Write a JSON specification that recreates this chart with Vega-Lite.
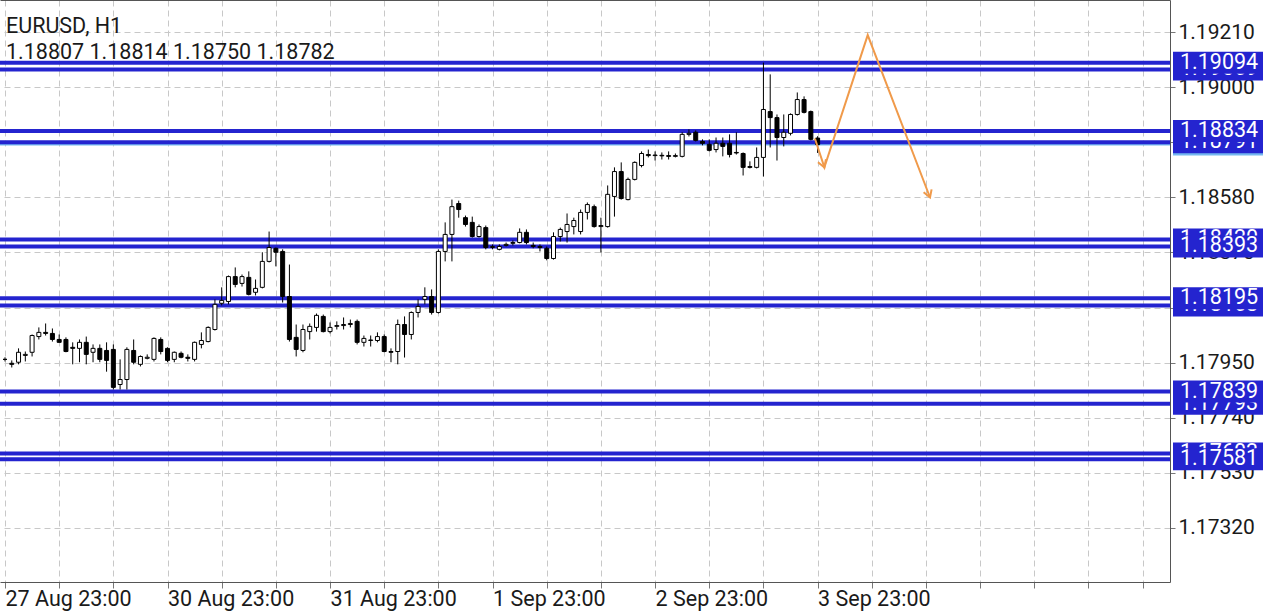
{
  "$schema": "https://vega.github.io/schema/vega-lite/v6.json",
  "width": 1170,
  "height": 582,
  "autosize": {"type": "none"},
  "padding": {"left": 0, "top": 0, "right": 110, "bottom": 32},
  "background": "white",
  "config": {"font": "Roboto", "view": {"stroke": null}},
  "title": {
    "text": "EURUSD, H1",
    "subtitle": "1.18807 1.18814 1.18750 1.18782",
    "anchor": "start",
    "frame": "group",
    "orient": "top",
    "offset": -63,
    "dx": 6,
    "font": "Roboto",
    "fontSize": 21.5,
    "fontWeight": "normal",
    "color": "#1a1a1a",
    "subtitleFont": "Roboto",
    "subtitleFontSize": 21.5,
    "subtitleColor": "#1a1a1a",
    "subtitlePadding": 4
  },
  "datasets": {
    "levels": [
      {"price": 1.19069, "label": "1.19069", "layer": "back"},
      {"price": 1.18791, "label": "1.18791", "layer": "back"},
      {"price": 1.18420, "label": "1.18420", "layer": "back"},
      {"price": 1.18168, "label": "1.18168", "layer": "back"},
      {"price": 1.17793, "label": "1.17793", "layer": "back"},
      {"price": 1.17603, "label": "1.17603", "layer": "back"},
      {"price": 1.19094, "label": "1.19094", "layer": "front"},
      {"price": 1.18834, "label": "1.18834", "layer": "front"},
      {"price": 1.18393, "label": "1.18393", "layer": "front"},
      {"price": 1.18195, "label": "1.18195", "layer": "front"},
      {"price": 1.17839, "label": "1.17839", "layer": "front"},
      {"price": 1.17581, "label": "1.17581", "layer": "front"}
    ],
    "bid": [{"price": 1.18782, "label": "1.18782"}],
    "path": [
      {"k": 0, "i": 119.6, "p": 1.18805},
      {"k": 1, "i": 121.0, "p": 1.18695},
      {"k": 2, "i": 127.4, "p": 1.19200},
      {"k": 3, "i": 136.6, "p": 1.18580}
    ],
    "heads": [
      {"i": 121.0, "p": 1.18695},
      {"i": 136.6, "p": 1.18580}
    ],
    "candles": [
      {"i":0,"o":1.17962,"h":1.17970,"l":1.17954,"c":1.17962},
      {"i":1,"o":1.17947,"h":1.17958,"l":1.17931,"c":1.17943},
      {"i":2,"o":1.17951,"h":1.18004,"l":1.17943,"c":1.17989},
      {"i":3,"o":1.17977,"h":1.17992,"l":1.17954,"c":1.17981},
      {"i":4,"o":1.17989,"h":1.18057,"l":1.17973,"c":1.18053},
      {"i":5,"o":1.18049,"h":1.18084,"l":1.18038,"c":1.18065},
      {"i":6,"o":1.18065,"h":1.18099,"l":1.18053,"c":1.18061},
      {"i":7,"o":1.18061,"h":1.18080,"l":1.18030,"c":1.18038},
      {"i":8,"o":1.18038,"h":1.18057,"l":1.18027,"c":1.18027},
      {"i":9,"o":1.18038,"h":1.18046,"l":1.17989,"c":1.17992},
      {"i":10,"o":1.18008,"h":1.18027,"l":1.17943,"c":1.18004},
      {"i":11,"o":1.18004,"h":1.18038,"l":1.17951,"c":1.18027},
      {"i":12,"o":1.18027,"h":1.18049,"l":1.17943,"c":1.17981},
      {"i":13,"o":1.17989,"h":1.18019,"l":1.17951,"c":1.18004},
      {"i":14,"o":1.18004,"h":1.18019,"l":1.17951,"c":1.17962},
      {"i":15,"o":1.17996,"h":1.18027,"l":1.17915,"c":1.17958},
      {"i":16,"o":1.18000,"h":1.18019,"l":1.17847,"c":1.17855},
      {"i":17,"o":1.17866,"h":1.17962,"l":1.17847,"c":1.17885},
      {"i":18,"o":1.17885,"h":1.18008,"l":1.17847,"c":1.18000},
      {"i":19,"o":1.17996,"h":1.18038,"l":1.17943,"c":1.17951},
      {"i":20,"o":1.17943,"h":1.17977,"l":1.17935,"c":1.17973},
      {"i":21,"o":1.17966,"h":1.17981,"l":1.17962,"c":1.17970},
      {"i":22,"o":1.17962,"h":1.18046,"l":1.17954,"c":1.18042},
      {"i":23,"o":1.18038,"h":1.18046,"l":1.17981,"c":1.17992},
      {"i":24,"o":1.18004,"h":1.18008,"l":1.17951,"c":1.17958},
      {"i":25,"o":1.17962,"h":1.17992,"l":1.17951,"c":1.17989},
      {"i":26,"o":1.17985,"h":1.17992,"l":1.17966,"c":1.17970},
      {"i":27,"o":1.17970,"h":1.17981,"l":1.17954,"c":1.17966},
      {"i":28,"o":1.17962,"h":1.18030,"l":1.17954,"c":1.18027},
      {"i":29,"o":1.18019,"h":1.18065,"l":1.18004,"c":1.18034},
      {"i":30,"o":1.18030,"h":1.18088,"l":1.18027,"c":1.18084},
      {"i":31,"o":1.18076,"h":1.18191,"l":1.18072,"c":1.18172},
      {"i":32,"o":1.18176,"h":1.18237,"l":1.18168,"c":1.18187},
      {"i":33,"o":1.18183,"h":1.18282,"l":1.18172,"c":1.18278},
      {"i":34,"o":1.18278,"h":1.18313,"l":1.18237,"c":1.18248},
      {"i":35,"o":1.18252,"h":1.18286,"l":1.18240,"c":1.18278},
      {"i":36,"o":1.18275,"h":1.18298,"l":1.18206,"c":1.18210},
      {"i":37,"o":1.18218,"h":1.18267,"l":1.18206,"c":1.18233},
      {"i":38,"o":1.18237,"h":1.18371,"l":1.18233,"c":1.18336},
      {"i":39,"o":1.18336,"h":1.18450,"l":1.18332,"c":1.18389},
      {"i":40,"o":1.18386,"h":1.18389,"l":1.18317,"c":1.18371},
      {"i":41,"o":1.18374,"h":1.18382,"l":1.18179,"c":1.18202},
      {"i":42,"o":1.18202,"h":1.18324,"l":1.18030,"c":1.18038},
      {"i":43,"o":1.18046,"h":1.18095,"l":1.17973,"c":1.18000},
      {"i":44,"o":1.17996,"h":1.18095,"l":1.17989,"c":1.18076},
      {"i":45,"o":1.18068,"h":1.18099,"l":1.18038,"c":1.18088},
      {"i":46,"o":1.18084,"h":1.18137,"l":1.18068,"c":1.18130},
      {"i":47,"o":1.18126,"h":1.18133,"l":1.18065,"c":1.18068},
      {"i":48,"o":1.18068,"h":1.18103,"l":1.18061,"c":1.18084},
      {"i":49,"o":1.18088,"h":1.18107,"l":1.18076,"c":1.18091},
      {"i":50,"o":1.18091,"h":1.18122,"l":1.18076,"c":1.18095},
      {"i":51,"o":1.18095,"h":1.18114,"l":1.18084,"c":1.18099},
      {"i":52,"o":1.18107,"h":1.18114,"l":1.18019,"c":1.18027},
      {"i":53,"o":1.18027,"h":1.18053,"l":1.18011,"c":1.18042},
      {"i":54,"o":1.18034,"h":1.18053,"l":1.18011,"c":1.18036},
      {"i":55,"o":1.18034,"h":1.18065,"l":1.18027,"c":1.18049},
      {"i":56,"o":1.18049,"h":1.18057,"l":1.17989,"c":1.17992},
      {"i":57,"o":1.17992,"h":1.18004,"l":1.17951,"c":1.17989},
      {"i":58,"o":1.17992,"h":1.18114,"l":1.17943,"c":1.18095},
      {"i":59,"o":1.18095,"h":1.18126,"l":1.17969,"c":1.18057},
      {"i":60,"o":1.18057,"h":1.18145,"l":1.18038,"c":1.18141},
      {"i":61,"o":1.18141,"h":1.18191,"l":1.18122,"c":1.18164},
      {"i":62,"o":1.18191,"h":1.18237,"l":1.18172,"c":1.18202},
      {"i":63,"o":1.18202,"h":1.18229,"l":1.18133,"c":1.18141},
      {"i":64,"o":1.18141,"h":1.18382,"l":1.18137,"c":1.18374},
      {"i":65,"o":1.18374,"h":1.18485,"l":1.18336,"c":1.18439},
      {"i":66,"o":1.18439,"h":1.18572,"l":1.18336,"c":1.18545},
      {"i":67,"o":1.18557,"h":1.18568,"l":1.18503,"c":1.18534},
      {"i":68,"o":1.18503,"h":1.18511,"l":1.18469,"c":1.18477},
      {"i":69,"o":1.18485,"h":1.18507,"l":1.18427,"c":1.18431},
      {"i":70,"o":1.18431,"h":1.18477,"l":1.18427,"c":1.18469},
      {"i":71,"o":1.18465,"h":1.18473,"l":1.18382,"c":1.18389},
      {"i":72,"o":1.18389,"h":1.18401,"l":1.18382,"c":1.18393},
      {"i":73,"o":1.18382,"h":1.18401,"l":1.18378,"c":1.18393},
      {"i":74,"o":1.18397,"h":1.18408,"l":1.18393,"c":1.18401},
      {"i":75,"o":1.18405,"h":1.18416,"l":1.18397,"c":1.18408},
      {"i":76,"o":1.18408,"h":1.18462,"l":1.18405,"c":1.18447},
      {"i":77,"o":1.18447,"h":1.18458,"l":1.18401,"c":1.18408},
      {"i":78,"o":1.18397,"h":1.18408,"l":1.18386,"c":1.18393},
      {"i":79,"o":1.18393,"h":1.18401,"l":1.18374,"c":1.18389},
      {"i":80,"o":1.18386,"h":1.18393,"l":1.18340,"c":1.18347},
      {"i":81,"o":1.18347,"h":1.18447,"l":1.18343,"c":1.18431},
      {"i":82,"o":1.18431,"h":1.18465,"l":1.18412,"c":1.18458},
      {"i":83,"o":1.18450,"h":1.18519,"l":1.18408,"c":1.18477},
      {"i":84,"o":1.18469,"h":1.18503,"l":1.18439,"c":1.18492},
      {"i":85,"o":1.18450,"h":1.18534,"l":1.18439,"c":1.18523},
      {"i":86,"o":1.18523,"h":1.18561,"l":1.18496,"c":1.18553},
      {"i":87,"o":1.18545,"h":1.18553,"l":1.18465,"c":1.18469},
      {"i":88,"o":1.18469,"h":1.18503,"l":1.18370,"c":1.18473},
      {"i":89,"o":1.18469,"h":1.18626,"l":1.18465,"c":1.18592},
      {"i":90,"o":1.18584,"h":1.18695,"l":1.18507,"c":1.18679},
      {"i":91,"o":1.18679,"h":1.18714,"l":1.18572,"c":1.18576},
      {"i":92,"o":1.18572,"h":1.18656,"l":1.18569,"c":1.18649},
      {"i":93,"o":1.18649,"h":1.18718,"l":1.18645,"c":1.18714},
      {"i":94,"o":1.18702,"h":1.18756,"l":1.18695,"c":1.18748},
      {"i":95,"o":1.18744,"h":1.18763,"l":1.18733,"c":1.18740},
      {"i":96,"o":1.18740,"h":1.18756,"l":1.18721,"c":1.18742},
      {"i":97,"o":1.18741,"h":1.18752,"l":1.18725,"c":1.18739},
      {"i":98,"o":1.18740,"h":1.18756,"l":1.18725,"c":1.18737},
      {"i":99,"o":1.18737,"h":1.18748,"l":1.18733,"c":1.18740},
      {"i":100,"o":1.18737,"h":1.18829,"l":1.18733,"c":1.18821},
      {"i":101,"o":1.18821,"h":1.18840,"l":1.18813,"c":1.18825},
      {"i":102,"o":1.18829,"h":1.18836,"l":1.18794,"c":1.18798},
      {"i":103,"o":1.18794,"h":1.18802,"l":1.18779,"c":1.18787},
      {"i":104,"o":1.18783,"h":1.18802,"l":1.18756,"c":1.18760},
      {"i":105,"o":1.18763,"h":1.18809,"l":1.18752,"c":1.18787},
      {"i":106,"o":1.18787,"h":1.18809,"l":1.18737,"c":1.18775},
      {"i":107,"o":1.18787,"h":1.18821,"l":1.18733,"c":1.18744},
      {"i":108,"o":1.18752,"h":1.18829,"l":1.18744,"c":1.18750},
      {"i":109,"o":1.18748,"h":1.18752,"l":1.18664,"c":1.18695},
      {"i":110,"o":1.18698,"h":1.18718,"l":1.18691,"c":1.18695},
      {"i":111,"o":1.18695,"h":1.18771,"l":1.18691,"c":1.18733},
      {"i":112,"o":1.18733,"h":1.19095,"l":1.18660,"c":1.18916},
      {"i":113,"o":1.18908,"h":1.19050,"l":1.18771,"c":1.18885},
      {"i":114,"o":1.18885,"h":1.18897,"l":1.18721,"c":1.18809},
      {"i":115,"o":1.18809,"h":1.18897,"l":1.18775,"c":1.18829},
      {"i":116,"o":1.18825,"h":1.18901,"l":1.18817,"c":1.18897},
      {"i":117,"o":1.18897,"h":1.18981,"l":1.18893,"c":1.18954},
      {"i":118,"o":1.18954,"h":1.18966,"l":1.18901,"c":1.18905},
      {"i":119,"o":1.18908,"h":1.18912,"l":1.18798,"c":1.18802},
      {"i":120,"o":1.18807,"h":1.18814,"l":1.18750,"c":1.18782}
    ]
  },
  "layer": [
    {
      "data": {"name": "bid"},
      "mark": {"type": "rule", "color": "#74b8f0", "strokeWidth": 2},
      "encoding": {
        "y": {
          "field": "price", "type": "quantitative", "title": null,
          "scale": {"domain": [1.17112, 1.19334], "nice": false, "zero": false},
          "axis": {
            "orient": "right",
            "values": [1.1732, 1.1753, 1.1774, 1.1795, 1.1816, 1.1837, 1.1858, 1.1879, 1.19, 1.1921],
            "format": ".5f",
            "labelFont": "Roboto", "labelFontSize": 21, "labelColor": "#1a1a1a",
            "labelAlign": "left", "labelBaseline": "middle", "labelPadding": 3,
            "tickSize": 5, "tickColor": "#777777",
            "domainColor": "#555555",
            "grid": true, "gridColor": "#c8c8c8", "gridDash": [6, 4],
            "labelOverlap": false, "labelFlush": false, "labelBound": false
          }
        }
      }
    },
    {
      "data": {"name": "levels"},
      "mark": {"type": "rule", "color": "#2424cf", "strokeWidth": 4},
      "encoding": {"y": {"field": "price", "type": "quantitative", "title": null}}
    },
    {
      "data": {"name": "candles"},
      "mark": {"type": "rule", "color": "black", "strokeWidth": 1, "clip": true},
      "encoding": {
        "x": {
          "field": "i", "type": "quantitative", "title": null,
          "scale": {"domain": [0, 171.3], "nice": false, "zero": false},
          "axis": {
            "orient": "bottom",
            "values": [0, 8, 16, 24, 32, 40, 48, 56, 64, 72, 80, 88, 96, 104, 112, 120, 128, 136, 144, 152, 160, 168],
            "labelExpr": "datum.value == 0 ? '27 Aug 23:00' : datum.value == 24 ? '30 Aug 23:00' : datum.value == 48 ? '31 Aug 23:00' : datum.value == 72 ? '1 Sep 23:00' : datum.value == 96 ? '2 Sep 23:00' : datum.value == 120 ? '3 Sep 23:00' : ''",
            "labelFont": "Roboto", "labelFontSize": 21.5, "labelColor": "#1a1a1a",
            "labelAlign": "left", "labelBaseline": "top", "labelPadding": 0,
            "tickSize": 6, "tickColor": "#777777",
            "domainColor": "#555555",
            "grid": true, "gridColor": "#c8c8c8", "gridDash": [6, 4],
            "labelOverlap": false, "labelFlush": false, "labelBound": false
          }
        },
        "y": {"field": "l", "type": "quantitative", "title": null},
        "y2": {"field": "h"}
      }
    },
    {
      "data": {"name": "candles"},
      "mark": {"type": "bar", "size": 4, "stroke": "black", "strokeWidth": 1, "clip": true},
      "encoding": {
        "x": {"field": "i", "type": "quantitative", "axis": null, "title": null},
        "y": {"field": "o", "type": "quantitative", "title": null},
        "y2": {"field": "c"},
        "fill": {"condition": {"test": "datum.c >= datum.o", "value": "white"}, "value": "black"}
      }
    },
    {
      "data": {"name": "path"},
      "mark": {"type": "line", "color": "#f09a4a", "strokeWidth": 2, "clip": true},
      "encoding": {
        "x": {
          "field": "i", "type": "quantitative", "title": null,
          "axis": {"orient": "top", "labels": false, "ticks": false, "grid": false, "domain": true, "domainColor": "#555555"}
        },
        "y": {"field": "p", "type": "quantitative", "title": null},
        "order": {"field": "k"}
      }
    },
    {
      "data": {"name": "heads"},
      "mark": {"type": "point", "shape": "M -0.6 -1 L 0 0 L 0.6 -1", "filled": false, "stroke": "#f09a4a", "strokeWidth": 2, "size": 200, "angle": -20, "opacity": 1},
      "encoding": {
        "x": {"field": "i", "type": "quantitative", "axis": null, "title": null},
        "y": {"field": "p", "type": "quantitative", "title": null}
      }
    },
    {
      "data": {"name": "bid"},
      "mark": {"type": "rect", "color": "#74b8f0", "xOffset": 3, "x2Offset": 93, "yOffset": -11, "y2Offset": 11},
      "encoding": {
        "x": {"value": "width"}, "x2": {"value": "width"},
        "y": {"field": "price", "type": "quantitative", "title": null},
        "y2": {"field": "price"}
      }
    },
    {
      "data": {"name": "levels"},
      "transform": [{"filter": "datum.layer === 'back'"}],
      "mark": {"type": "rect", "color": "#2424cf", "xOffset": 3, "x2Offset": 93, "yOffset": -11, "y2Offset": 11},
      "encoding": {
        "x": {"value": "width"}, "x2": {"value": "width"},
        "y": {"field": "price", "type": "quantitative", "title": null},
        "y2": {"field": "price"}
      }
    },
    {
      "data": {"name": "levels"},
      "transform": [{"filter": "datum.layer === 'back'"}],
      "mark": {"type": "text", "color": "white", "font": "Roboto", "fontSize": 21.5, "align": "left", "baseline": "middle", "dx": 10},
      "encoding": {
        "x": {"value": "width"},
        "y": {"field": "price", "type": "quantitative", "title": null},
        "text": {"field": "label"}
      }
    },
    {
      "data": {"name": "levels"},
      "transform": [{"filter": "datum.layer === 'front'"}],
      "mark": {"type": "rect", "color": "#2424cf", "xOffset": 3, "x2Offset": 93, "yOffset": -11, "y2Offset": 11},
      "encoding": {
        "x": {"value": "width"}, "x2": {"value": "width"},
        "y": {"field": "price", "type": "quantitative", "title": null},
        "y2": {"field": "price"}
      }
    },
    {
      "data": {"name": "levels"},
      "transform": [{"filter": "datum.layer === 'front'"}],
      "mark": {"type": "text", "color": "white", "font": "Roboto", "fontSize": 21.5, "align": "left", "baseline": "middle", "dx": 10},
      "encoding": {
        "x": {"value": "width"},
        "y": {"field": "price", "type": "quantitative", "title": null},
        "text": {"field": "label"}
      }
    }
  ],
  "resolve": {"axis": {"x": "independent"}}
}
